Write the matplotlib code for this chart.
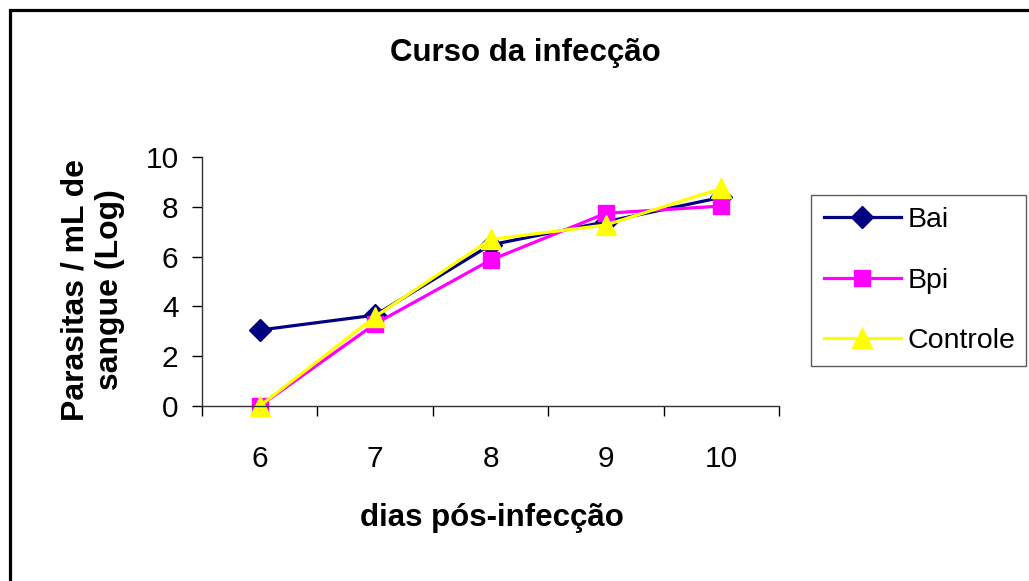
import numpy as np
import matplotlib as mpl
mpl.use('Agg')
import matplotlib.pyplot as plt
from matplotlib.patches import Rectangle
from matplotlib.ticker import FixedLocator

plt.rcParams['font.family'] = ['Liberation Sans', 'DejaVu Sans']

# Data
dias = ['6', '7', '8', '9', '10']
bai = [3.05, 3.65, 6.47, 7.40, 8.38]
bpi = [0.0, 3.30, 5.86, 7.74, 8.03]
controle = [0.0, 3.59, 6.69, 7.27, 8.74]

x = np.arange(1, len(dias) + 1)

fig = plt.figure(figsize=(10.29, 5.81), dpi=100)
ax = fig.add_axes([202/1029, 1 - 406/581, (779 - 202)/1029, (406 - 157)/581])

ax.plot(x, bai, color='#000080', lw=2.3, marker='D', ms=11, label='Bai', zorder=3)
ax.plot(x, bpi, color='#FF00FF', lw=2.3, marker='s', ms=11, label='Bpi', zorder=4)
ax.plot(x, controle, color='#FFFF00', lw=2.3, marker='^', ms=14, label='Controle', zorder=5)

ax.set_xlim(0.5, len(dias) + 0.5)
ax.set_ylim(0, 10)
ax.set_yticks([0, 2, 4, 6, 8, 10])
ax.xaxis.set_major_locator(FixedLocator(np.arange(0.5, len(dias) + 1)))
ax.xaxis.set_minor_locator(FixedLocator(x))
ax.set_xticklabels([])
ax.set_xticklabels(dias, minor=True)
ax.tick_params(axis='x', which='major', length=7, width=1, direction='out')
ax.tick_params(axis='x', which='minor', length=0, pad=28, labelsize=21.5)
ax.tick_params(axis='y', length=7, width=1, direction='out', pad=10, labelsize=21.5)

for s in ['top', 'right']:
    ax.spines[s].set_visible(False)
for s in ['left', 'bottom']:
    ax.spines[s].set_linewidth(1)
    ax.spines[s].set_color('#333333')
ax.spines['bottom'].set_zorder(6)
for ln in ax.lines:
    ln.set_clip_on(False)

fig.text(525/1029, 1 - 53/581, 'Curso da infecção', ha='center', va='center',
         fontsize=22.5, fontweight='bold')
fig.text(492/1029, 1 - 518/581, 'dias pós-infecção', ha='center', va='center',
         fontsize=22.5, fontweight='bold')
fig.text(93/1029, 1 - 290/581, 'Parasitas / mL de\nsangue (Log)', ha='center', va='center',
         rotation=90, fontsize=23, fontweight='bold', linespacing=1.2)

leg = ax.legend(loc='center', bbox_to_anchor=(811/1029, 1 - 367/581, (1026 - 811)/1029, (367 - 194)/581),
                bbox_transform=fig.transFigure, mode='expand', fontsize=20.5, frameon=True,
                fancybox=False, edgecolor='#333333', borderaxespad=0, handlelength=2.7,
                handletextpad=0.25, labelspacing=1.2, borderpad=0.45)
leg.get_frame().set_linewidth(1)

# outer chart frame (left and top visible)
fig.patches.append(Rectangle((9.5/1029, -0.1), 1.2, 1 - 9.5/581 + 0.1, transform=fig.transFigure,
                             fill=False, edgecolor='black', lw=2.3, figure=fig))

plt.savefig('out.png', dpi=100)
